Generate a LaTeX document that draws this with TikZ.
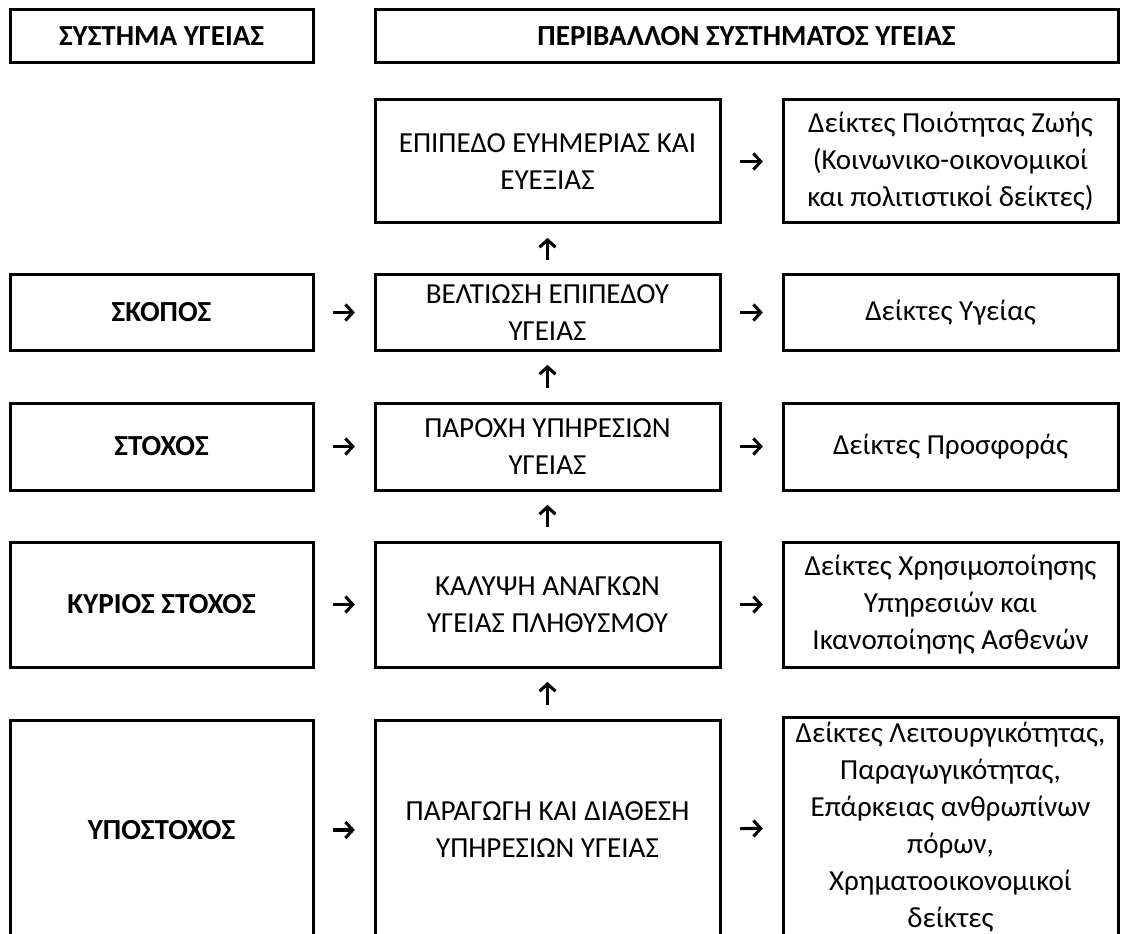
\documentclass[tikz,border=0pt]{standalone}
\usepackage{fontspec}
\setmainfont{Carlito}
\usetikzlibrary{arrows.meta}
\begin{document}
\begin{tikzpicture}[x=0.75pt,y=-0.75pt,
  box/.style={draw, line width=2.25pt, rectangle, align=center, inner sep=0pt,
    font=\fontsize{21.8}{27.75}\selectfont},
  boldbox/.style={box, font=\fontsize{21.8}{27.75}\selectfont\bfseries},
  sz/.style 2 args={minimum width=#1*0.75pt, minimum height=#2*0.75pt},
  arr/.style={line width=2.3pt, -{Straight Barb[length=5.5pt,width=12pt]}},
  harr/.style={arr, shorten <=14pt, shorten >=14pt},
  varr/.style={arr, shorten <=10pt, shorten >=10pt},
]
\useasboundingbox (0,0) rectangle (1121,934);
\clip (0,0) rectangle (1121,934);
\fill[white] (0,0) rectangle (1121,934);

% column headers
\node[boldbox, sz={303}{53}] (hsys) at (161.5,36.5) {ΣΥΣΤΗΜΑ ΥΓΕΙΑΣ};
\node[boldbox, sz={743}{53}] (henv) at (746.5,36.5) {ΠΕΡΙΒΑΛΛΟΝ ΣΥΣΤΗΜΑΤΟΣ ΥΓΕΙΑΣ};

% row 0
\node[box, sz={345}{123}] (m0) at (547.5,161.5) {ΕΠΙΠΕΔΟ ΕΥΗΜΕΡΙΑΣ ΚΑΙ\\ΕΥΕΞΙΑΣ};
\node[box, sz={335}{123}] (r0) at (950.5,161.5) {Δείκτες Ποιότητας Ζωής\\(Κοινωνικο-οικονομικοί\\και πολιτιστικοί δείκτες)};

% row 1
\node[boldbox, sz={303}{75}] (l1) at (161.5,312.5) {ΣΚΟΠΟΣ};
\node[box, sz={345}{75}] (m1) at (547.5,312.5) {ΒΕΛΤΙΩΣΗ ΕΠΙΠΕΔΟΥ\\ΥΓΕΙΑΣ};
\node[box, sz={335}{75}] (r1) at (950.5,312.5) {Δείκτες Υγείας};

% row 2
\node[boldbox, sz={303}{87}] (l2) at (161.5,446.5) {ΣΤΟΧΟΣ};
\node[box, sz={345}{87}] (m2) at (547.5,446.5) {ΠΑΡΟΧΗ ΥΠΗΡΕΣΙΩΝ\\ΥΓΕΙΑΣ};
\node[box, sz={335}{87}] (r2) at (950.5,446.5) {Δείκτες Προσφοράς};

% row 3
\node[boldbox, sz={303}{125}] (l3) at (161.5,604.5) {ΚΥΡΙΟΣ ΣΤΟΧΟΣ};
\node[box, sz={345}{125}] (m3) at (547.5,604.5) {ΚΑΛΥΨΗ ΑΝΑΓΚΩΝ\\ΥΓΕΙΑΣ ΠΛΗΘΥΣΜΟΥ};
\node[box, sz={335}{125}] (r3) at (950.5,604.5) {Δείκτες Χρησιμοποίησης\\Υπηρεσιών και\\Ικανοποίησης Ασθενών};

% row 4 (runs past the lower edge)
\node[boldbox, sz={303}{220}] (l4) at (161.5,830) {ΥΠΟΣΤΟΧΟΣ};
\node[box, sz={345}{220}] (m4) at (547.5,830) {ΠΑΡΑΓΩΓΗ ΚΑΙ ΔΙΑΘΕΣΗ\\ΥΠΗΡΕΣΙΩΝ ΥΓΕΙΑΣ};
\node[box, sz={335}{220}] (r4) at (950.5,827) {Δείκτες Λειτουργικότητας,\\Παραγωγικότητας,\\Επάρκειας ανθρωπίνων\\πόρων,\\Χρηματοοικονομικοί\\δείκτες};

% horizontal arrows
\draw[harr] (m0) -- (r0);
\foreach \i in {1,...,4}{
  \draw[harr] (l\i) -- (m\i);
  \draw[harr] (m\i) -- (r\i);
}
% upward arrows along the middle column
\draw[varr] (m1) -- (m0);
\draw[varr] (m2) -- (m1);
\draw[varr] (m3) -- (m2);
\draw[varr] (m4) -- (m3);
\end{tikzpicture}
\end{document}
